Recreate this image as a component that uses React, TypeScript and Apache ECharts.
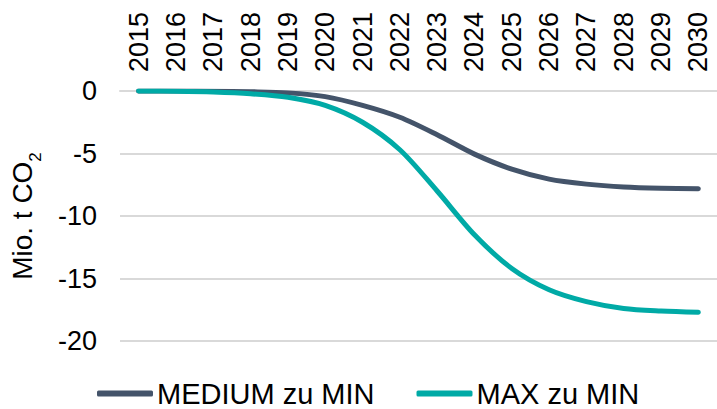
import React, { useEffect, useRef } from "react";
import * as echarts from "echarts";

const years = ["2015","2016","2017","2018","2019","2020","2021","2022","2023","2024","2025","2026","2027","2028","2029","2030"];
const mediumZuMin = [0, 0, -0.02, -0.06, -0.15, -0.45, -1.15, -2.1, -3.5, -5.05, -6.25, -7.05, -7.45, -7.68, -7.78, -7.82];
const maxZuMin = [0, -0.02, -0.08, -0.22, -0.5, -1.15, -2.5, -4.7, -8.0, -11.5, -14.2, -15.9, -16.85, -17.4, -17.6, -17.7];
const yTicks = { min: -20, max: 0, interval: 5 };

const FONT = "'Liberation Sans', Arial, sans-serif";

export default function App() {
  const ref = useRef<HTMLDivElement>(null);
  useEffect(() => {
    if (!ref.current) return;
    const chart = echarts.init(ref.current, undefined, { renderer: "svg" });
    chart.setOption({
      animation: false,
      textStyle: { fontFamily: FONT, color: "#000" },
      grid: { left: 116, right: -9, top: 91, bottom: 68, containLabel: false },
      legend: {
        left: 97,
        top: 379,
        padding: 0,
        itemWidth: 56,
        itemHeight: 6,
        itemGap: 42,
        icon: "roundRect",
        textStyle: { fontFamily: FONT, fontSize: 29, color: "#000", padding: [0, 0, 0, -1] },
        data: ["MEDIUM zu MIN", "MAX zu MIN"],
      },
      xAxis: {
        type: "category",
        position: "top",
        data: years,
        boundaryGap: true,
        axisLine: { show: true, lineStyle: { color: "#d9d9d9", width: 2 } },
        axisTick: { show: false },
        axisLabel: { rotate: 90, interval: 0, margin: 19, fontSize: 27, color: "#000", fontFamily: FONT },
      },
      yAxis: {
        type: "value",
        min: yTicks.min,
        max: yTicks.max,
        interval: yTicks.interval,
        axisLine: { show: false },
        axisTick: { show: false },
        splitLine: { show: true, lineStyle: { color: "#d9d9d9", width: 2 } },
        axisLabel: { margin: 23, fontSize: 27, color: "#000", fontFamily: FONT },
        name: "{a|Mio. t CO}{s|2}",
        nameLocation: "middle",
        nameRotate: 90,
        nameGap: 82,
        nameTextStyle: {
          rich: {
            a: { fontSize: 28, fontFamily: FONT, color: "#000", lineHeight: 32 },
            s: { fontSize: 17, fontFamily: FONT, color: "#000", lineHeight: 32, verticalAlign: "bottom", padding: [0, 0, -6, 0] },
          },
        },
      },
      series: [
        {
          name: "MEDIUM zu MIN",
          type: "line",
          data: mediumZuMin,
          smooth: 0.3,
          symbol: "none",
          itemStyle: { color: "#44546a" },
          lineStyle: { color: "#44546a", width: 5, cap: "round", join: "round" },
        },
        {
          name: "MAX zu MIN",
          type: "line",
          data: maxZuMin,
          smooth: 0.3,
          symbol: "none",
          itemStyle: { color: "#00aaa6" },
          lineStyle: { color: "#00aaa6", width: 5, cap: "round", join: "round" },
        },
      ],
    });
    return () => chart.dispose();
  }, []);
  return (
    <div
      ref={ref}
      style={{ position: "fixed", left: 0, top: 0, width: 717, height: 409, background: "#fff" }}
    />
  );
}
